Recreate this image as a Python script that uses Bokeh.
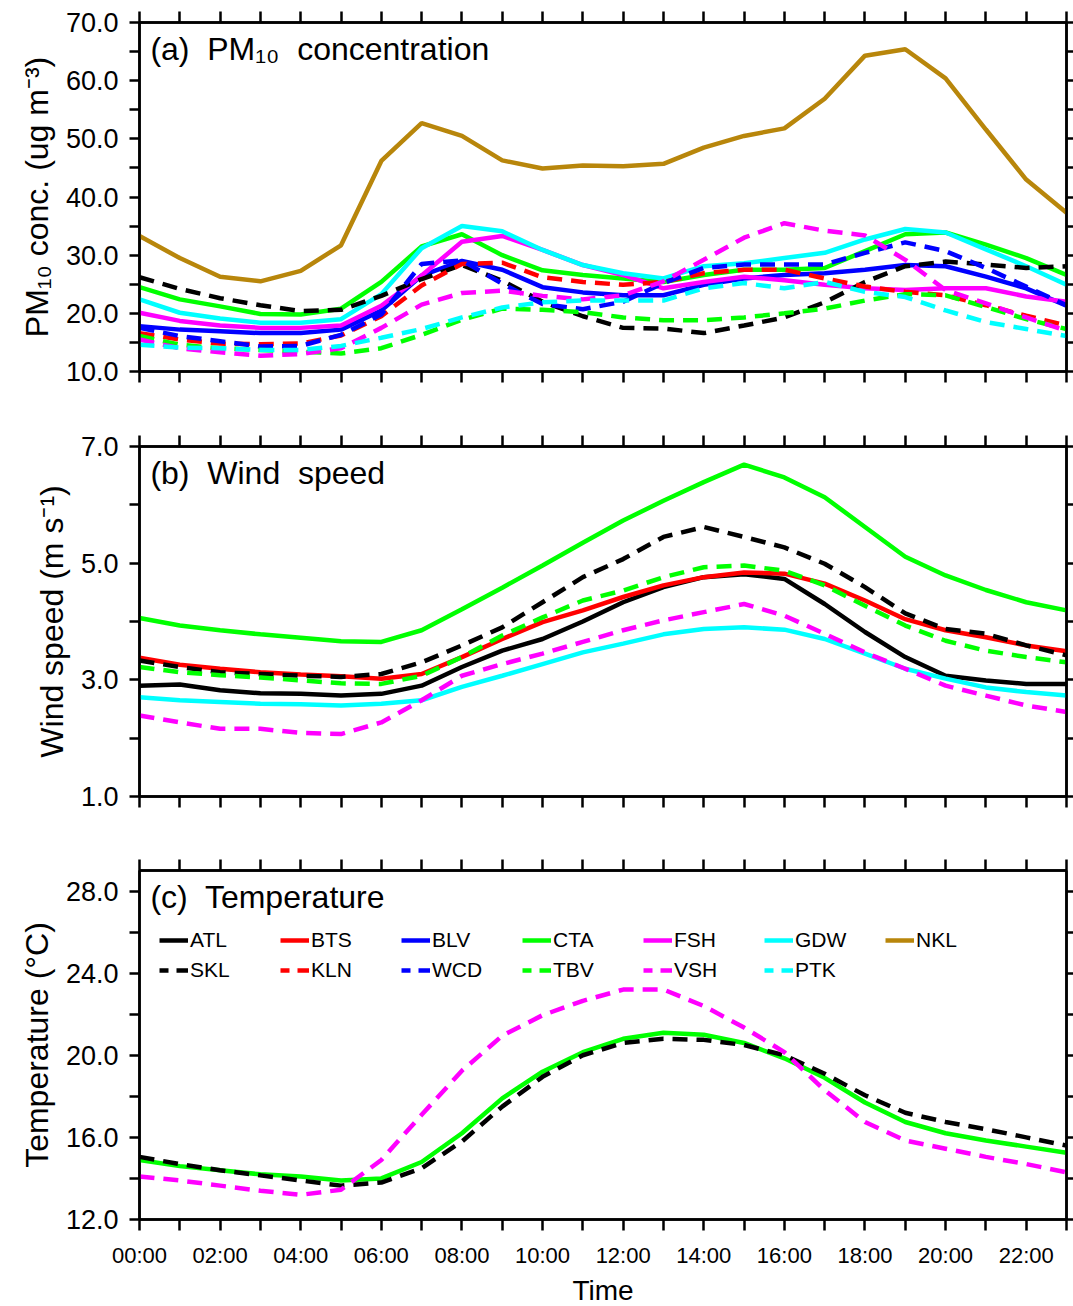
from bokeh.plotting import figure
from bokeh.models import (FixedTicker, LinearAxis, Range1d, Label, Legend, LegendItem,
                          CustomLabelingPolicy, PrintfTickFormatter)
from bokeh.layouts import column
from bokeh.embed import file_html
from bokeh.resources import INLINE

# ---------------- data ----------------
hours = list(range(24))
time_labels = ["00:00", "02:00", "04:00", "06:00", "08:00", "10:00",
               "12:00", "14:00", "16:00", "18:00", "20:00", "22:00"]

station_names = ["ATL", "BTS", "BLV", "CTA", "FSH", "GDW", "NKL",
                 "SKL", "KLN", "WCD", "TBV", "VSH", "PTK"]
station_colors = ["#000000", "#FF0000", "#0000FF", "#00FF00", "#FF00FF", "#00FFFF", "#B8860B",
                  "#000000", "#FF0000", "#0000FF", "#00FF00", "#FF00FF", "#00FFFF"]
station_dashed = [False, False, False, False, False, False, False,
                  True, True, True, True, True, True]

# (a) PM10 concentration (ug m-3)
pm_BLV = [17.8, 17.2, 16.9, 16.6, 16.6, 17.2, 20.5, 26.5, 29.0, 27.5, 24.5, 23.6,
          23.1, 23.1, 24.9, 26.0, 26.6, 26.9, 27.5, 28.3, 28.1, 26.3, 24.3, 21.3]
pm_CTA = [24.5, 22.4, 21.2, 19.9, 19.8, 20.8, 25.4, 31.5, 33.6, 30.0, 27.4, 26.6,
          26.0, 25.4, 26.6, 27.5, 27.5, 27.8, 30.7, 33.6, 33.9, 31.8, 29.5, 26.6]
pm_FSH = [20.1, 18.7, 17.9, 17.5, 17.5, 17.9, 21.3, 26.5, 32.3, 33.3, 30.9, 28.3,
          26.6, 24.3, 25.4, 26.3, 25.7, 24.9, 24.3, 24.0, 24.3, 24.3, 22.9, 22.0]
pm_GDW = [22.4, 20.1, 19.1, 18.4, 18.4, 19.0, 23.3, 31.2, 35.0, 34.1, 30.9, 28.3,
          26.9, 26.0, 28.1, 28.6, 29.5, 30.4, 32.7, 34.5, 33.9, 31.0, 28.1, 24.9]
pm_NKL = [33.3, 29.5, 26.3, 25.5, 27.3, 31.7, 46.2, 52.7, 50.5, 46.3, 44.9, 45.4,
          45.3, 45.7, 48.5, 50.5, 51.8, 56.9, 64.3, 65.4, 60.4, 51.6, 43.0, 37.3]
pm_SKL = [26.2, 24.2, 22.6, 21.4, 20.4, 20.6, 23.0, 25.9, 28.3, 25.6, 22.0, 19.5,
          17.5, 17.4, 16.6, 17.9, 19.3, 21.9, 25.4, 28.1, 28.9, 28.4, 27.8, 28.1]
pm_KLN = [16.6, 15.5, 14.8, 14.7, 14.8, 16.2, 19.5, 24.8, 28.5, 28.7, 26.2, 25.4,
          24.9, 25.4, 26.9, 27.5, 27.5, 26.0, 24.6, 23.7, 23.1, 21.4, 19.6, 17.9]
pm_WCD = [17.5, 16.1, 15.2, 14.3, 14.4, 16.3, 19.8, 28.5, 29.1, 25.1, 21.6, 20.7,
          22.0, 25.2, 27.8, 28.4, 28.4, 28.4, 30.4, 32.2, 30.7, 27.8, 24.6, 21.4]
pm_TBV = [16.1, 14.6, 14.0, 13.7, 13.4, 13.1, 14.0, 16.3, 18.9, 20.8, 20.6, 20.2,
          19.3, 18.8, 18.8, 19.3, 20.0, 20.8, 22.2, 23.3, 23.1, 21.1, 19.0, 17.3]
pm_VSH = [15.5, 14.0, 13.3, 12.7, 13.0, 14.0, 17.5, 21.5, 23.5, 23.9, 23.0, 22.4,
          23.1, 25.5, 29.2, 33.0, 35.5, 34.2, 33.4, 29.2, 24.0, 21.7, 19.3, 17.0]
pm_PTK = [14.6, 14.1, 14.0, 13.7, 13.7, 14.4, 15.8, 17.3, 19.3, 21.0, 21.9, 22.2,
          22.2, 22.2, 24.3, 25.2, 24.3, 25.4, 23.7, 22.8, 20.5, 18.5, 17.3, 16.1]

# (b) Wind speed (m s-1)
ws_ATL = [2.90, 2.92, 2.82, 2.77, 2.76, 2.73, 2.76, 2.90, 3.22, 3.50, 3.70, 4.00,
          4.33, 4.59, 4.76, 4.81, 4.73, 4.30, 3.82, 3.39, 3.07, 2.99, 2.93, 2.93]
ws_BTS = [3.38, 3.26, 3.19, 3.13, 3.09, 3.06, 3.02, 3.10, 3.39, 3.70, 3.99, 4.19,
          4.42, 4.62, 4.76, 4.84, 4.82, 4.65, 4.36, 4.04, 3.85, 3.73, 3.59, 3.49]
ws_CTA = [4.06, 3.93, 3.85, 3.78, 3.72, 3.66, 3.65, 3.85, 4.21, 4.58, 4.96, 5.35,
          5.73, 6.07, 6.39, 6.69, 6.47, 6.13, 5.62, 5.11, 4.79, 4.54, 4.33, 4.19]
ws_GDW = [2.70, 2.65, 2.62, 2.59, 2.58, 2.56, 2.59, 2.65, 2.88, 3.07, 3.27, 3.47,
          3.62, 3.78, 3.87, 3.90, 3.86, 3.70, 3.45, 3.19, 3.02, 2.87, 2.79, 2.73]
ws_SKL = [3.33, 3.22, 3.13, 3.10, 3.07, 3.05, 3.10, 3.30, 3.59, 3.90, 4.33, 4.76,
          5.07, 5.45, 5.62, 5.45, 5.27, 4.99, 4.59, 4.14, 3.87, 3.79, 3.59, 3.42]
ws_TBV = [3.22, 3.13, 3.08, 3.04, 2.99, 2.94, 2.93, 3.07, 3.39, 3.76, 4.07, 4.36,
          4.53, 4.76, 4.93, 4.96, 4.87, 4.62, 4.27, 3.93, 3.67, 3.50, 3.39, 3.30]
ws_VSH = [2.39, 2.27, 2.16, 2.16, 2.09, 2.07, 2.27, 2.65, 3.07, 3.27, 3.45, 3.65,
          3.85, 4.02, 4.16, 4.30, 4.10, 3.79, 3.47, 3.19, 2.90, 2.73, 2.56, 2.45]

# (c) Temperature (degC)
t_CTA = [14.9, 14.6, 14.4, 14.2, 14.1, 13.9, 14.0, 14.8, 16.2, 17.9, 19.2, 20.15,
         20.8, 21.1, 21.0, 20.6, 19.85, 18.9, 17.7, 16.75, 16.2, 15.85, 15.55, 15.25]
t_SKL = [15.05, 14.7, 14.4, 14.15, 13.9, 13.65, 13.8, 14.5, 15.8, 17.5, 18.95, 20.0,
         20.6, 20.8, 20.75, 20.5, 20.0, 19.1, 18.05, 17.2, 16.75, 16.4, 16.0, 15.6]
t_VSH = [14.1, 13.9, 13.65, 13.4, 13.2, 13.45, 14.9, 17.1, 19.25, 20.95, 21.95, 22.65,
         23.2, 23.2, 22.4, 21.35, 20.15, 18.3, 16.75, 15.85, 15.45, 15.05, 14.7, 14.3]

pm_data = {"BLV": pm_BLV, "CTA": pm_CTA, "FSH": pm_FSH, "GDW": pm_GDW, "NKL": pm_NKL,
           "SKL": pm_SKL, "KLN": pm_KLN, "WCD": pm_WCD, "TBV": pm_TBV, "VSH": pm_VSH,
           "PTK": pm_PTK}
ws_data = {"ATL": ws_ATL, "BTS": ws_BTS, "CTA": ws_CTA, "GDW": ws_GDW,
           "SKL": ws_SKL, "TBV": ws_TBV, "VSH": ws_VSH}
t_data = {"CTA": t_CTA, "SKL": t_SKL, "VSH": t_VSH}

FONT = "Liberation Sans"
LW = 4.5
DASH = "15 9"
LEGEND_DASH = "9 8 12"
NB = "\u00a0"

EVERY_OTHER = """
const result = new Set()
for (const i of indices) {
    if (i % 2 == 0) result.add(i)
}
return result
"""
NONE_SHOWN = "return new Set()"


def make_panel(ymin, ymax, tick_step, ylabel, title, title_y,
               top_border, bottom_border, frame_h, show_x):
    p = figure(frame_width=927, frame_height=frame_h,
               x_range=Range1d(0, 23), y_range=Range1d(ymin, ymax),
               output_backend="svg", toolbar_location=None,
               min_border_left=139, min_border_right=7,
               min_border_top=top_border, min_border_bottom=bottom_border)
    p.xgrid.visible = False
    p.ygrid.visible = False
    p.outline_line_color = "black"
    p.outline_line_width = 2.5
    p.background_fill_color = "white"
    p.border_fill_color = "white"

    n = int(round((ymax - ymin) / tick_step))
    yt = [ymin + k * tick_step for k in range(n + 1)]

    def style(ax, labels):
        ax.axis_line_width = 2.5
        ax.axis_line_color = "black"
        ax.major_tick_line_width = 2.5
        ax.major_tick_in = 0
        ax.minor_tick_in = 0
        ax.minor_tick_out = 0
        if labels:
            ax.major_label_policy = CustomLabelingPolicy(code=EVERY_OTHER)
        else:
            ax.major_label_policy = CustomLabelingPolicy(code=NONE_SHOWN)
            ax.major_label_text_font_size = "1px"
            ax.major_label_standoff = 0

    # left axis
    ly = p.yaxis[0]
    ly.ticker = FixedTicker(ticks=yt, minor_ticks=[])
    ly.formatter = PrintfTickFormatter(format="%.1f")
    style(ly, True)
    ly.major_tick_out = 10
    ly.major_label_standoff = 11
    ly.major_label_text_font = FONT
    ly.major_label_text_font_size = "27px"
    ly.major_label_text_color = "black"
    ly.axis_label = ylabel
    ly.axis_label_text_font = FONT
    ly.axis_label_text_font_size = "32px"
    ly.axis_label_text_font_style = "normal"
    ly.axis_label_text_color = "black"
    ly.axis_label_standoff = 8

    # bottom axis
    bx = p.xaxis[0]
    bx.ticker = FixedTicker(ticks=hours, minor_ticks=[])
    bx.major_tick_out = 11
    if show_x:
        style(bx, True)
        bx.major_label_overrides = {2 * k: time_labels[k] for k in range(len(time_labels))}
        bx.major_label_standoff = 12
        bx.major_label_text_font = FONT
        bx.major_label_text_font_size = "22px"
        bx.major_label_text_color = "black"
        bx.axis_label = "Time"
        bx.axis_label_text_font = FONT
        bx.axis_label_text_font_size = "28px"
        bx.axis_label_text_font_style = "normal"
        bx.axis_label_text_color = "black"
        bx.axis_label_standoff = 4
    else:
        style(bx, False)

    # mirrored axes (ticks only)
    ry = LinearAxis(ticker=FixedTicker(ticks=yt, minor_ticks=[]))
    style(ry, False)
    ry.major_tick_out = 7
    p.add_layout(ry, "right")
    tx = LinearAxis(ticker=FixedTicker(ticks=hours, minor_ticks=[]))
    style(tx, False)
    tx.major_tick_out = 11
    p.add_layout(tx, "above")

    p.add_layout(Label(x=0.27, y=title_y, text=title, text_font=FONT,
                       text_font_size="32px", text_baseline="middle",
                       text_color="black"))
    return p


pa = make_panel(10, 70, 5, "PM\u2081\u2080 conc. (ug m\u207b\u00b3)",
                "(a)" + NB + " PM\u2081\u2080 " + NB + "concentration", 65.4, 22, 38, 349, False)
pb = make_panel(1, 7, 1, "Wind speed (m s\u207b\u00b9)",
                "(b)" + NB + " Wind" + NB + " speed", 6.55, 37, 38, 350, False)
pc = make_panel(12, 29, 2, "Temperature (\u00b0C)",
                "(c)" + NB + " Temperature", 27.7, 36, 87, 349, True)

legend_items = []
for name, color, dashed in zip(station_names, station_colors, station_dashed):
    kw = dict(line_color=color, line_width=LW)
    if dashed:
        kw["line_dash"] = DASH
    if name in pm_data:
        pa.line(hours, pm_data[name], **kw)
    if name in ws_data:
        pb.line(hours, ws_data[name], **kw)
    if name in t_data:
        pc.line(hours, t_data[name], **kw)
    # legend-only swatch renderer (no drawn data)
    lkw = dict(line_color=color, line_width=LW)
    if dashed:
        lkw["line_dash"] = LEGEND_DASH
    r = pc.line(hours, [float("nan")] * len(hours), **lkw)
    legend_items.append(LegendItem(label=name, renderers=[r]))

legend = Legend(items=legend_items, orientation="horizontal", ncols=7,
                location=(20, 234), margin=0, padding=0, spacing=0,
                glyph_width=29, glyph_height=30, label_height=30,
                label_width=90, label_standoff=2,
                label_text_font=FONT, label_text_font_size="21px",
                label_text_color="black",
                border_line_color=None, background_fill_alpha=0)
pc.add_layout(legend, "center")

layout = column(pa, pb, pc, spacing=0)
open("out.html", "w").write(file_html(layout, INLINE))
